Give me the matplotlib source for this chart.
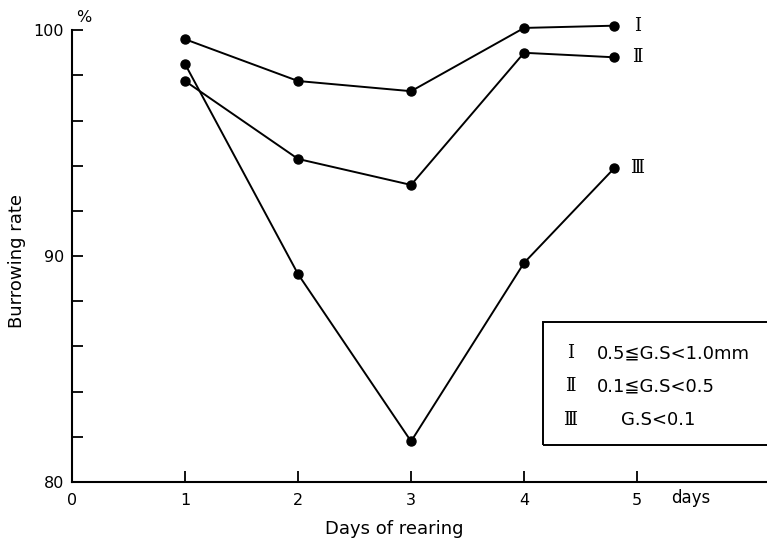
import matplotlib.pyplot as plt
from matplotlib.patches import Rectangle
from matplotlib.ticker import MultipleLocator

# burrowing rate (%) by grain size class, per day of rearing
days = [1, 2, 3, 4, 4.8]
rate_I = [99.6, 97.75, 97.3, 100.1, 100.2]
rate_II = [97.75, 94.3, 93.15, 99.0, 98.8]
rate_III = [98.5, 89.2, 81.8, 89.7, 93.9]

series_names = ["Ⅰ", "Ⅱ", "Ⅲ"]
legend_texts = ["0.5≦G.S<1.0mm", "0.1≦G.S<0.5", "G.S<0.1"]

x_ticks = [0, 1, 2, 3, 4, 5]
y_ticks = [80, 90, 100]

text_font = ["DejaVu Sans", "Noto Sans CJK JP"]
numeral_font = ["DejaVu Serif", "Noto Sans CJK JP"]


def main():
    fig = plt.figure(figsize=(7.67, 5.45), dpi=100)
    ax = fig.add_axes([0.094, 0.1156, 0.906, 0.829])

    for values in (rate_I, rate_II, rate_III):
        ax.plot(days, values, color="black", linewidth=1.4, marker="o",
                markersize=6.5, clip_on=False)

    # numerals at the end of each curve
    for name, values in zip(series_names, (rate_I, rate_II, rate_III)):
        ax.text(days[-1] + 0.2, values[-1], name, family=numeral_font,
                fontsize=13, va="center", ha="center")

    ax.set_xlim(0, 6.15)
    ax.set_ylim(80, 100)
    ax.set_xticks(x_ticks)
    ax.set_yticks(y_ticks)
    ax.yaxis.set_minor_locator(MultipleLocator(2))
    ax.tick_params(direction="in", length=8, width=1.3, labelsize=11.5, pad=8)
    ax.tick_params(axis="y", which="minor", direction="in", length=8, width=1.3)
    ax.tick_params(axis="y", pad=6)

    for side in ("top", "right"):
        ax.spines[side].set_visible(False)
    for side in ("left", "bottom"):
        ax.spines[side].set_linewidth(1.5)

    ax.text(5.3, 79.28, "days", fontsize=12, va="center", ha="left",
            family=text_font)
    ax.text(0.1, 100.58, "%", fontsize=11.5, ha="center", va="center")

    ax.set_xlabel("Days of rearing", fontsize=13)
    ax.xaxis.set_label_coords((394 - 72) / 695, -0.085)
    ax.set_ylabel("Burrowing rate", fontsize=13)
    ax.yaxis.set_label_coords(-0.066, 0.49)

    # grain size key
    box = Rectangle((4.17, 81.62), 2.2, 5.45, fill=False, linewidth=1.4,
                    edgecolor="black", clip_on=False)
    ax.add_patch(box)
    rows = [85.7, 84.23, 82.73]
    text_x = [4.64, 4.64, 4.86]
    for name, label, y, x in zip(series_names, legend_texts, rows, text_x):
        ax.text(4.41, y, name, family=numeral_font, fontsize=13,
                va="center", ha="center")
        ax.text(x, y, label, family=text_font, fontsize=13, va="center",
                ha="left")

    fig.savefig("out.png", dpi=100)


if __name__ == "__main__":
    main()
